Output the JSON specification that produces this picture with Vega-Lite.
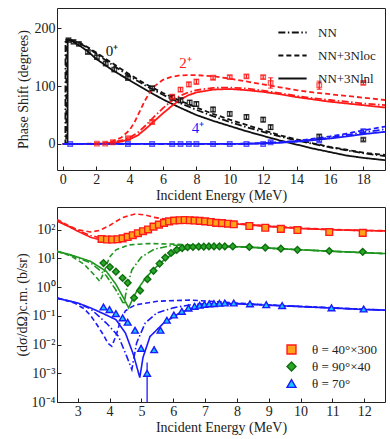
{
 "$schema": "https://vega.github.io/schema/vega-lite/v6.json",
 "padding": {"left": 14, "top": 7, "right": 5, "bottom": 2},
 "spacing": 3,
 "resolve": {
  "scale": {"x": "independent", "y": "independent", "color": "independent"}
 },
 "config": {
  "font": "Liberation Serif",
  "view": {"stroke": "#222", "strokeWidth": 1},
  "axis": {"grid": false, "domain": false, "tickColor": "#222", "tickSize": -4, "labelPadding": 6, "labelFont": "Liberation Serif", "labelFontSize": 14, "labelColor": "#222", "titleFont": "Liberation Serif", "titleFontSize": 14, "titleFontWeight": "normal", "titleColor": "#222"},
  "legend": {"labelFont": "Liberation Serif", "labelFontSize": 13, "labelColor": "#222"}
 },
 "datasets": {
  "a_curves": [
   {"state":"0+","model":"NN","x":0,"y":0},{"state":"0+","model":"NN","x":0.15,"y":0},{"state":"0+","model":"NN","x":0.16,"y":180},{"state":"0+","model":"NN","x":0.5,"y":179},{"state":"0+","model":"NN","x":1,"y":174},{"state":"0+","model":"NN","x":1.5,"y":166},{"state":"0+","model":"NN","x":2,"y":156},{"state":"0+","model":"NN","x":3,"y":136},{"state":"0+","model":"NN","x":4,"y":117},{"state":"0+","model":"NN","x":5,"y":100},{"state":"0+","model":"NN","x":6,"y":85},{"state":"0+","model":"NN","x":7,"y":71},{"state":"0+","model":"NN","x":8,"y":59},{"state":"0+","model":"NN","x":9,"y":48},{"state":"0+","model":"NN","x":10,"y":38},{"state":"0+","model":"NN","x":11,"y":29},{"state":"0+","model":"NN","x":12,"y":21},{"state":"0+","model":"NN","x":13,"y":13},{"state":"0+","model":"NN","x":14,"y":6},{"state":"0+","model":"NN","x":15,"y":0},{"state":"0+","model":"NN","x":16,"y":-6},{"state":"0+","model":"NN","x":17,"y":-11},{"state":"0+","model":"NN","x":18,"y":-16},{"state":"0+","model":"NN","x":19.3,"y":-21},
   {"state":"0+","model":"NN+3Nloc","x":0,"y":0},{"state":"0+","model":"NN+3Nloc","x":0.2,"y":0},{"state":"0+","model":"NN+3Nloc","x":0.21,"y":180},{"state":"0+","model":"NN+3Nloc","x":0.5,"y":179.5},{"state":"0+","model":"NN+3Nloc","x":1,"y":175},{"state":"0+","model":"NN+3Nloc","x":1.5,"y":167},{"state":"0+","model":"NN+3Nloc","x":2,"y":158},{"state":"0+","model":"NN+3Nloc","x":3,"y":139},{"state":"0+","model":"NN+3Nloc","x":4,"y":120},{"state":"0+","model":"NN+3Nloc","x":5,"y":103},{"state":"0+","model":"NN+3Nloc","x":6,"y":88},{"state":"0+","model":"NN+3Nloc","x":7,"y":75},{"state":"0+","model":"NN+3Nloc","x":8,"y":63},{"state":"0+","model":"NN+3Nloc","x":9,"y":52},{"state":"0+","model":"NN+3Nloc","x":10,"y":42},{"state":"0+","model":"NN+3Nloc","x":11,"y":33},{"state":"0+","model":"NN+3Nloc","x":12,"y":24},{"state":"0+","model":"NN+3Nloc","x":13,"y":15},{"state":"0+","model":"NN+3Nloc","x":14,"y":8},{"state":"0+","model":"NN+3Nloc","x":15,"y":1},{"state":"0+","model":"NN+3Nloc","x":16,"y":-5},{"state":"0+","model":"NN+3Nloc","x":17,"y":-10},{"state":"0+","model":"NN+3Nloc","x":18,"y":-15},{"state":"0+","model":"NN+3Nloc","x":19.3,"y":-19},
   {"state":"0+","model":"NN+3Nlnl","x":0,"y":0},{"state":"0+","model":"NN+3Nlnl","x":0.28,"y":0},{"state":"0+","model":"NN+3Nlnl","x":0.29,"y":180},{"state":"0+","model":"NN+3Nlnl","x":0.5,"y":179},{"state":"0+","model":"NN+3Nlnl","x":1,"y":170},{"state":"0+","model":"NN+3Nlnl","x":1.5,"y":160},{"state":"0+","model":"NN+3Nlnl","x":2,"y":147},{"state":"0+","model":"NN+3Nlnl","x":3,"y":127},{"state":"0+","model":"NN+3Nlnl","x":4,"y":110},{"state":"0+","model":"NN+3Nlnl","x":5,"y":93},{"state":"0+","model":"NN+3Nlnl","x":6,"y":77},{"state":"0+","model":"NN+3Nlnl","x":7,"y":63},{"state":"0+","model":"NN+3Nlnl","x":8,"y":50},{"state":"0+","model":"NN+3Nlnl","x":9,"y":40},{"state":"0+","model":"NN+3Nlnl","x":10,"y":31},{"state":"0+","model":"NN+3Nlnl","x":11,"y":22},{"state":"0+","model":"NN+3Nlnl","x":12,"y":14},{"state":"0+","model":"NN+3Nlnl","x":13,"y":6},{"state":"0+","model":"NN+3Nlnl","x":14,"y":-1},{"state":"0+","model":"NN+3Nlnl","x":15,"y":-8},{"state":"0+","model":"NN+3Nlnl","x":16,"y":-14},{"state":"0+","model":"NN+3Nlnl","x":17,"y":-20},{"state":"0+","model":"NN+3Nlnl","x":18,"y":-24},{"state":"0+","model":"NN+3Nlnl","x":19.3,"y":-28},
   {"state":"2+","model":"NN","x":0,"y":0},{"state":"2+","model":"NN","x":2,"y":0.3},{"state":"2+","model":"NN","x":2.5,"y":1},{"state":"2+","model":"NN","x":3,"y":3},{"state":"2+","model":"NN","x":3.5,"y":6},{"state":"2+","model":"NN","x":4,"y":11},{"state":"2+","model":"NN","x":4.5,"y":20},{"state":"2+","model":"NN","x":5,"y":33},{"state":"2+","model":"NN","x":5.5,"y":48},{"state":"2+","model":"NN","x":6,"y":62},{"state":"2+","model":"NN","x":6.5,"y":74},{"state":"2+","model":"NN","x":7,"y":83},{"state":"2+","model":"NN","x":7.5,"y":89},{"state":"2+","model":"NN","x":8,"y":93},{"state":"2+","model":"NN","x":9,"y":97},{"state":"2+","model":"NN","x":10,"y":97.5},{"state":"2+","model":"NN","x":11,"y":96},{"state":"2+","model":"NN","x":12,"y":92},{"state":"2+","model":"NN","x":13,"y":88},{"state":"2+","model":"NN","x":14,"y":83},{"state":"2+","model":"NN","x":15,"y":79},{"state":"2+","model":"NN","x":16,"y":76},{"state":"2+","model":"NN","x":17,"y":73},{"state":"2+","model":"NN","x":18,"y":70},{"state":"2+","model":"NN","x":19.3,"y":67},
   {"state":"2+","model":"NN+3Nloc","x":0,"y":0},{"state":"2+","model":"NN+3Nloc","x":2,"y":0.5},{"state":"2+","model":"NN+3Nloc","x":2.5,"y":2},{"state":"2+","model":"NN+3Nloc","x":3,"y":5},{"state":"2+","model":"NN+3Nloc","x":3.5,"y":11},{"state":"2+","model":"NN+3Nloc","x":4,"y":24},{"state":"2+","model":"NN+3Nloc","x":4.3,"y":38},{"state":"2+","model":"NN+3Nloc","x":4.6,"y":56},{"state":"2+","model":"NN+3Nloc","x":4.9,"y":74},{"state":"2+","model":"NN+3Nloc","x":5.2,"y":89},{"state":"2+","model":"NN+3Nloc","x":5.5,"y":100},{"state":"2+","model":"NN+3Nloc","x":6,"y":111},{"state":"2+","model":"NN+3Nloc","x":6.5,"y":116},{"state":"2+","model":"NN+3Nloc","x":7,"y":118.5},{"state":"2+","model":"NN+3Nloc","x":7.5,"y":119},{"state":"2+","model":"NN+3Nloc","x":8,"y":119},{"state":"2+","model":"NN+3Nloc","x":9,"y":117},{"state":"2+","model":"NN+3Nloc","x":10,"y":113},{"state":"2+","model":"NN+3Nloc","x":11,"y":108},{"state":"2+","model":"NN+3Nloc","x":12,"y":103},{"state":"2+","model":"NN+3Nloc","x":13,"y":98},{"state":"2+","model":"NN+3Nloc","x":14,"y":93},{"state":"2+","model":"NN+3Nloc","x":15,"y":89},{"state":"2+","model":"NN+3Nloc","x":16,"y":86},{"state":"2+","model":"NN+3Nloc","x":17,"y":83},{"state":"2+","model":"NN+3Nloc","x":18,"y":80},{"state":"2+","model":"NN+3Nloc","x":19.3,"y":76},
   {"state":"2+","model":"NN+3Nlnl","x":0,"y":0},{"state":"2+","model":"NN+3Nlnl","x":2,"y":0.2},{"state":"2+","model":"NN+3Nlnl","x":2.5,"y":0.7},{"state":"2+","model":"NN+3Nlnl","x":3,"y":2},{"state":"2+","model":"NN+3Nlnl","x":3.5,"y":4},{"state":"2+","model":"NN+3Nlnl","x":4,"y":8},{"state":"2+","model":"NN+3Nlnl","x":4.5,"y":15},{"state":"2+","model":"NN+3Nlnl","x":5,"y":27},{"state":"2+","model":"NN+3Nlnl","x":5.5,"y":40},{"state":"2+","model":"NN+3Nlnl","x":6,"y":53},{"state":"2+","model":"NN+3Nlnl","x":6.5,"y":65},{"state":"2+","model":"NN+3Nlnl","x":7,"y":76},{"state":"2+","model":"NN+3Nlnl","x":7.5,"y":84},{"state":"2+","model":"NN+3Nlnl","x":8,"y":89},{"state":"2+","model":"NN+3Nlnl","x":9,"y":94},{"state":"2+","model":"NN+3Nlnl","x":10,"y":95},{"state":"2+","model":"NN+3Nlnl","x":11,"y":93},{"state":"2+","model":"NN+3Nlnl","x":12,"y":90},{"state":"2+","model":"NN+3Nlnl","x":13,"y":86},{"state":"2+","model":"NN+3Nlnl","x":14,"y":81},{"state":"2+","model":"NN+3Nlnl","x":15,"y":77},{"state":"2+","model":"NN+3Nlnl","x":16,"y":73},{"state":"2+","model":"NN+3Nlnl","x":17,"y":70},{"state":"2+","model":"NN+3Nlnl","x":18,"y":67},{"state":"2+","model":"NN+3Nlnl","x":19.3,"y":63},
   {"state":"4+","model":"NN","x":0,"y":0},{"state":"4+","model":"NN","x":10,"y":0},{"state":"4+","model":"NN","x":11,"y":0.4},{"state":"4+","model":"NN","x":12,"y":1.2},{"state":"4+","model":"NN","x":13,"y":2.6},{"state":"4+","model":"NN","x":14,"y":4.7},{"state":"4+","model":"NN","x":15,"y":7.7},{"state":"4+","model":"NN","x":16,"y":11},{"state":"4+","model":"NN","x":17,"y":15.5},{"state":"4+","model":"NN","x":18,"y":20},{"state":"4+","model":"NN","x":19.3,"y":25.5},
   {"state":"4+","model":"NN+3Nloc","x":0,"y":0},{"state":"4+","model":"NN+3Nloc","x":10,"y":0},{"state":"4+","model":"NN+3Nloc","x":11,"y":0.5},{"state":"4+","model":"NN+3Nloc","x":12,"y":1.5},{"state":"4+","model":"NN+3Nloc","x":13,"y":3},{"state":"4+","model":"NN+3Nloc","x":14,"y":5.5},{"state":"4+","model":"NN+3Nloc","x":15,"y":9},{"state":"4+","model":"NN+3Nloc","x":16,"y":13},{"state":"4+","model":"NN+3Nloc","x":17,"y":18},{"state":"4+","model":"NN+3Nloc","x":18,"y":23.5},{"state":"4+","model":"NN+3Nloc","x":19.3,"y":30},
   {"state":"4+","model":"NN+3Nlnl","x":0,"y":0},{"state":"4+","model":"NN+3Nlnl","x":10,"y":0},{"state":"4+","model":"NN+3Nlnl","x":11,"y":0.3},{"state":"4+","model":"NN+3Nlnl","x":12,"y":1},{"state":"4+","model":"NN+3Nlnl","x":13,"y":2.2},{"state":"4+","model":"NN+3Nlnl","x":14,"y":4},{"state":"4+","model":"NN+3Nlnl","x":15,"y":6.5},{"state":"4+","model":"NN+3Nlnl","x":16,"y":9.5},{"state":"4+","model":"NN+3Nlnl","x":17,"y":13},{"state":"4+","model":"NN+3Nlnl","x":18,"y":17},{"state":"4+","model":"NN+3Nlnl","x":19.3,"y":21}
  ],
  "a_points": [
   {"state":"0+","x":0.34,"y":179.4,"lo":177,"hi":182},{"state":"0+","x":0.64,"y":176.5,"lo":174,"hi":179},{"state":"0+","x":0.96,"y":173,"lo":170,"hi":176},{"state":"0+","x":1.5,"y":159,"lo":156,"hi":162},{"state":"0+","x":2.04,"y":150,"lo":147,"hi":153},{"state":"0+","x":2.57,"y":139,"lo":136,"hi":142},{"state":"0+","x":3.08,"y":128.5,"lo":125.5,"hi":131.5},{"state":"0+","x":3.9,"y":114,"lo":111,"hi":117},{"state":"0+","x":5.35,"y":96,"lo":92,"hi":100},{"state":"0+","x":6.55,"y":80,"lo":76,"hi":84},{"state":"0+","x":7.05,"y":75.5,"lo":71.5,"hi":79.5},{"state":"0+","x":7.6,"y":71.5,"lo":67.5,"hi":75.5},{"state":"0+","x":8.0,"y":69,"lo":65,"hi":73},{"state":"0+","x":9.0,"y":59.5,"lo":55.5,"hi":63.5},{"state":"0+","x":10.0,"y":52,"lo":48,"hi":56},{"state":"0+","x":11.0,"y":46.5,"lo":42.5,"hi":50.5},{"state":"0+","x":12.0,"y":42,"lo":38,"hi":46},{"state":"0+","x":12.45,"y":29,"lo":25,"hi":33},{"state":"0+","x":15.36,"y":13,"lo":10,"hi":16},{"state":"0+","x":18.0,"y":7.6,"lo":5,"hi":10},
   {"state":"2+","x":2.04,"y":0.5,"lo":-1,"hi":2},{"state":"2+","x":2.54,"y":0.5,"lo":-1,"hi":2},{"state":"2+","x":3.0,"y":3,"lo":1.5,"hi":4.5},{"state":"2+","x":3.9,"y":10,"lo":8,"hi":12},{"state":"2+","x":5.35,"y":38,"lo":35,"hi":41},{"state":"2+","x":6.55,"y":81.5,"lo":78,"hi":85},{"state":"2+","x":7.05,"y":94,"lo":90.5,"hi":97.5},{"state":"2+","x":7.55,"y":103,"lo":99,"hi":107},{"state":"2+","x":8.0,"y":107.5,"lo":103.5,"hi":111.5},{"state":"2+","x":9.0,"y":114.5,"lo":111.5,"hi":117.5},{"state":"2+","x":10.0,"y":115.5,"lo":112.5,"hi":118.5},{"state":"2+","x":11.0,"y":116.8,"lo":113.8,"hi":119.8},{"state":"2+","x":12.0,"y":115.5,"lo":112.5,"hi":118.5},{"state":"2+","x":12.45,"y":105.5,"lo":96.5,"hi":114.5},{"state":"2+","x":15.36,"y":101.5,"lo":94.5,"hi":108.5},{"state":"2+","x":18.0,"y":105.5,"lo":102.5,"hi":108.5},
   {"state":"4+","x":0.44,"y":0,"lo":-1,"hi":1},{"state":"4+","x":3.9,"y":0,"lo":-1,"hi":1},{"state":"4+","x":5.35,"y":0,"lo":-1,"hi":1},{"state":"4+","x":6.55,"y":0,"lo":-1,"hi":1},{"state":"4+","x":7.05,"y":0,"lo":-1,"hi":1},{"state":"4+","x":7.55,"y":0,"lo":-1,"hi":1},{"state":"4+","x":8.0,"y":0,"lo":-1,"hi":1},{"state":"4+","x":9.0,"y":0,"lo":-1,"hi":1},{"state":"4+","x":10.0,"y":0,"lo":-1,"hi":1},{"state":"4+","x":11.0,"y":0,"lo":-1,"hi":1},{"state":"4+","x":12.0,"y":0,"lo":-1,"hi":1},{"state":"4+","x":12.45,"y":3,"lo":1,"hi":5},{"state":"4+","x":15.36,"y":6,"lo":4,"hi":8},{"state":"4+","x":18.0,"y":22,"lo":19,"hi":25}
  ],
  "a_labels": [
   {"state":"0+","x":2.94,"y":160,"text":"0⁺"},
   {"state":"2+","x":7.35,"y":140,"text":"2⁺"},
   {"state":"4+","x":8.1,"y":27,"text":"4⁺"}
  ],
  "b_curves": [
   {"series":"θ = 40°×300","model":"NN+3Nlnl","x":2.35,"y":200},{"series":"θ = 40°×300","model":"NN+3Nlnl","x":2.7,"y":131.8},{"series":"θ = 40°×300","model":"NN+3Nlnl","x":3.0,"y":89.1},{"series":"θ = 40°×300","model":"NN+3Nlnl","x":3.4,"y":54.95},{"series":"θ = 40°×300","model":"NN+3Nlnl","x":3.7,"y":44.7},{"series":"θ = 40°×300","model":"NN+3Nlnl","x":4.0,"y":45.7},{"series":"θ = 40°×300","model":"NN+3Nlnl","x":4.3,"y":52.5},{"series":"θ = 40°×300","model":"NN+3Nlnl","x":4.7,"y":66.1},{"series":"θ = 40°×300","model":"NN+3Nlnl","x":5.0,"y":81.3},{"series":"θ = 40°×300","model":"NN+3Nlnl","x":5.3,"y":104.7},{"series":"θ = 40°×300","model":"NN+3Nlnl","x":5.6,"y":138},{"series":"θ = 40°×300","model":"NN+3Nlnl","x":6.0,"y":182},{"series":"θ = 40°×300","model":"NN+3Nlnl","x":6.5,"y":213.8},{"series":"θ = 40°×300","model":"NN+3Nlnl","x":7.0,"y":204.2},{"series":"θ = 40°×300","model":"NN+3Nlnl","x":7.5,"y":182},{"series":"θ = 40°×300","model":"NN+3Nlnl","x":8,"y":158.5},{"series":"θ = 40°×300","model":"NN+3Nlnl","x":9,"y":128.8},{"series":"θ = 40°×300","model":"NN+3Nlnl","x":10,"y":109.6},{"series":"θ = 40°×300","model":"NN+3Nlnl","x":11,"y":100},{"series":"θ = 40°×300","model":"NN+3Nlnl","x":12,"y":93.3},{"series":"θ = 40°×300","model":"NN+3Nlnl","x":12.65,"y":91.2},
   {"series":"θ = 40°×300","model":"NN","x":2.35,"y":208.9},{"series":"θ = 40°×300","model":"NN","x":2.7,"y":138},{"series":"θ = 40°×300","model":"NN","x":3.0,"y":95.5},{"series":"θ = 40°×300","model":"NN","x":3.4,"y":63.1},{"series":"θ = 40°×300","model":"NN","x":3.7,"y":52.5},{"series":"θ = 40°×300","model":"NN","x":4.0,"y":52.5},{"series":"θ = 40°×300","model":"NN","x":4.3,"y":58.9},{"series":"θ = 40°×300","model":"NN","x":4.7,"y":74.1},{"series":"θ = 40°×300","model":"NN","x":5.0,"y":93.3},{"series":"θ = 40°×300","model":"NN","x":5.3,"y":120.2},{"series":"θ = 40°×300","model":"NN","x":5.6,"y":151.4},{"series":"θ = 40°×300","model":"NN","x":6.0,"y":190.5},{"series":"θ = 40°×300","model":"NN","x":6.5,"y":218.8},{"series":"θ = 40°×300","model":"NN","x":7.0,"y":208.9},{"series":"θ = 40°×300","model":"NN","x":7.5,"y":186.2},{"series":"θ = 40°×300","model":"NN","x":8,"y":162.2},{"series":"θ = 40°×300","model":"NN","x":9,"y":131.8},{"series":"θ = 40°×300","model":"NN","x":10,"y":112.2},{"series":"θ = 40°×300","model":"NN","x":11,"y":100},{"series":"θ = 40°×300","model":"NN","x":12,"y":93.3},{"series":"θ = 40°×300","model":"NN","x":12.65,"y":91.2},
   {"series":"θ = 40°×300","model":"NN+3Nloc","x":2.35,"y":229.1},{"series":"θ = 40°×300","model":"NN+3Nloc","x":2.7,"y":141.3},{"series":"θ = 40°×300","model":"NN+3Nloc","x":3.0,"y":100},{"series":"θ = 40°×300","model":"NN+3Nloc","x":3.4,"y":83.2},{"series":"θ = 40°×300","model":"NN+3Nloc","x":3.7,"y":95.5},{"series":"θ = 40°×300","model":"NN+3Nloc","x":4.0,"y":141.3},{"series":"θ = 40°×300","model":"NN+3Nloc","x":4.4,"y":263},{"series":"θ = 40°×300","model":"NN+3Nloc","x":4.8,"y":354.8},{"series":"θ = 40°×300","model":"NN+3Nloc","x":5.1,"y":331.1},{"series":"θ = 40°×300","model":"NN+3Nloc","x":5.4,"y":269.2},{"series":"θ = 40°×300","model":"NN+3Nloc","x":5.8,"y":229.1},{"series":"θ = 40°×300","model":"NN+3Nloc","x":6.3,"y":229.1},{"series":"θ = 40°×300","model":"NN+3Nloc","x":6.8,"y":223.9},{"series":"θ = 40°×300","model":"NN+3Nloc","x":7.5,"y":190.5},{"series":"θ = 40°×300","model":"NN+3Nloc","x":8,"y":166},{"series":"θ = 40°×300","model":"NN+3Nloc","x":9,"y":134.9},{"series":"θ = 40°×300","model":"NN+3Nloc","x":10,"y":114.8},{"series":"θ = 40°×300","model":"NN+3Nloc","x":11,"y":102.3},{"series":"θ = 40°×300","model":"NN+3Nloc","x":12,"y":95.5},{"series":"θ = 40°×300","model":"NN+3Nloc","x":12.65,"y":93.3},
   {"series":"θ = 90°×40","model":"NN+3Nlnl","x":2.35,"y":17.78},{"series":"θ = 90°×40","model":"NN+3Nlnl","x":2.8,"y":13.18},{"series":"θ = 90°×40","model":"NN+3Nlnl","x":3.4,"y":7.943},{"series":"θ = 90°×40","model":"NN+3Nlnl","x":3.9,"y":3.548},{"series":"θ = 90°×40","model":"NN+3Nlnl","x":4.2,"y":1.259},{"series":"θ = 90°×40","model":"NN+3Nlnl","x":4.4,"y":0.5012},{"series":"θ = 90°×40","model":"NN+3Nlnl","x":4.6,"y":0.1905},{"series":"θ = 90°×40","model":"NN+3Nlnl","x":4.75,"y":0.4467},{"series":"θ = 90°×40","model":"NN+3Nlnl","x":4.9,"y":0.8913},{"series":"θ = 90°×40","model":"NN+3Nlnl","x":5.1,"y":1.862},{"series":"θ = 90°×40","model":"NN+3Nlnl","x":5.3,"y":3.311},{"series":"θ = 90°×40","model":"NN+3Nlnl","x":5.6,"y":7.079},{"series":"θ = 90°×40","model":"NN+3Nlnl","x":5.9,"y":12.59},{"series":"θ = 90°×40","model":"NN+3Nlnl","x":6.2,"y":19.05},{"series":"θ = 90°×40","model":"NN+3Nlnl","x":6.6,"y":24.55},{"series":"θ = 90°×40","model":"NN+3Nlnl","x":7,"y":26.3},{"series":"θ = 90°×40","model":"NN+3Nlnl","x":8,"y":25.7},{"series":"θ = 90°×40","model":"NN+3Nlnl","x":9,"y":22.91},{"series":"θ = 90°×40","model":"NN+3Nlnl","x":10,"y":19.95},{"series":"θ = 90°×40","model":"NN+3Nlnl","x":11,"y":17.78},{"series":"θ = 90°×40","model":"NN+3Nlnl","x":12,"y":15.85},{"series":"θ = 90°×40","model":"NN+3Nlnl","x":12.65,"y":14.79},
   {"series":"θ = 90°×40","model":"NN","x":2.35,"y":17.78},{"series":"θ = 90°×40","model":"NN","x":2.8,"y":12.59},{"series":"θ = 90°×40","model":"NN","x":3.4,"y":7.079},{"series":"θ = 90°×40","model":"NN","x":3.9,"y":2.512},{"series":"θ = 90°×40","model":"NN","x":4.2,"y":0.7943},{"series":"θ = 90°×40","model":"NN","x":4.45,"y":0.2512},{"series":"θ = 90°×40","model":"NN","x":4.55,"y":1.0},{"series":"θ = 90°×40","model":"NN","x":4.7,"y":3.981},{"series":"θ = 90°×40","model":"NN","x":5.0,"y":11.22},{"series":"θ = 90°×40","model":"NN","x":5.4,"y":20.89},{"series":"θ = 90°×40","model":"NN","x":6.0,"y":28.84},{"series":"θ = 90°×40","model":"NN","x":6.5,"y":28.84},{"series":"θ = 90°×40","model":"NN","x":7,"y":27.54},{"series":"θ = 90°×40","model":"NN","x":8,"y":25.7},{"series":"θ = 90°×40","model":"NN","x":9,"y":22.91},{"series":"θ = 90°×40","model":"NN","x":10,"y":19.95},{"series":"θ = 90°×40","model":"NN","x":11,"y":17.78},{"series":"θ = 90°×40","model":"NN","x":12,"y":15.85},{"series":"θ = 90°×40","model":"NN","x":12.65,"y":14.79},
   {"series":"θ = 90°×40","model":"NN+3Nloc","x":2.35,"y":17.78},{"series":"θ = 90°×40","model":"NN+3Nloc","x":2.8,"y":12.02},{"series":"θ = 90°×40","model":"NN+3Nloc","x":3.2,"y":6.31},{"series":"θ = 90°×40","model":"NN+3Nloc","x":3.5,"y":2.818},{"series":"θ = 90°×40","model":"NN+3Nloc","x":3.7,"y":1.585},{"series":"θ = 90°×40","model":"NN+3Nloc","x":3.85,"y":3.981},{"series":"θ = 90°×40","model":"NN+3Nloc","x":4.0,"y":11.22},{"series":"θ = 90°×40","model":"NN+3Nloc","x":4.2,"y":19.95},{"series":"θ = 90°×40","model":"NN+3Nloc","x":4.6,"y":29.51},{"series":"θ = 90°×40","model":"NN+3Nloc","x":5.2,"y":33.11},{"series":"θ = 90°×40","model":"NN+3Nloc","x":6.0,"y":31.62},{"series":"θ = 90°×40","model":"NN+3Nloc","x":6.5,"y":29.51},{"series":"θ = 90°×40","model":"NN+3Nloc","x":7,"y":27.54},{"series":"θ = 90°×40","model":"NN+3Nloc","x":8,"y":25.7},{"series":"θ = 90°×40","model":"NN+3Nloc","x":9,"y":22.91},{"series":"θ = 90°×40","model":"NN+3Nloc","x":10,"y":19.95},{"series":"θ = 90°×40","model":"NN+3Nloc","x":11,"y":17.78},{"series":"θ = 90°×40","model":"NN+3Nloc","x":12,"y":15.85},{"series":"θ = 90°×40","model":"NN+3Nloc","x":12.65,"y":14.79},
   {"series":"θ = 70°","model":"NN+3Nlnl","x":2.35,"y":0.4169},{"series":"θ = 70°","model":"NN+3Nlnl","x":3.0,"y":0.2818},{"series":"θ = 70°","model":"NN+3Nlnl","x":3.4,"y":0.1905},{"series":"θ = 70°","model":"NN+3Nlnl","x":3.8,"y":0.1202},{"series":"θ = 70°","model":"NN+3Nlnl","x":4.2,"y":0.07413},{"series":"θ = 70°","model":"NN+3Nlnl","x":4.5,"y":0.02512},{"series":"θ = 70°","model":"NN+3Nlnl","x":4.75,"y":0.004467},{"series":"θ = 70°","model":"NN+3Nlnl","x":4.95,"y":0.0007079},{"series":"θ = 70°","model":"NN+3Nlnl","x":5.05,"y":0.003548},{"series":"θ = 70°","model":"NN+3Nlnl","x":5.27,"y":0.01905},{"series":"θ = 70°","model":"NN+3Nlnl","x":5.7,"y":0.05623},{"series":"θ = 70°","model":"NN+3Nlnl","x":6.2,"y":0.1259},{"series":"θ = 70°","model":"NN+3Nlnl","x":6.7,"y":0.2089},{"series":"θ = 70°","model":"NN+3Nlnl","x":7.2,"y":0.2512},{"series":"θ = 70°","model":"NN+3Nlnl","x":8,"y":0.263},{"series":"θ = 70°","model":"NN+3Nlnl","x":9,"y":0.2344},{"series":"θ = 70°","model":"NN+3Nlnl","x":10,"y":0.2089},{"series":"θ = 70°","model":"NN+3Nlnl","x":11,"y":0.1862},{"series":"θ = 70°","model":"NN+3Nlnl","x":12,"y":0.166},{"series":"θ = 70°","model":"NN+3Nlnl","x":12.65,"y":0.1585},
   {"series":"θ = 70°","model":"NN","x":2.35,"y":0.4169},{"series":"θ = 70°","model":"NN","x":3.0,"y":0.2754},{"series":"θ = 70°","model":"NN","x":3.4,"y":0.1778},{"series":"θ = 70°","model":"NN","x":3.9,"y":0.05623},{"series":"θ = 70°","model":"NN","x":4.28,"y":0.0195},{"series":"θ = 70°","model":"NN","x":4.54,"y":0.00389},{"series":"θ = 70°","model":"NN","x":4.7,"y":0.001349},{"series":"θ = 70°","model":"NN","x":4.85,"y":0.01148},{"series":"θ = 70°","model":"NN","x":5.12,"y":0.05623},{"series":"θ = 70°","model":"NN","x":5.48,"y":0.1259},{"series":"θ = 70°","model":"NN","x":6.0,"y":0.1905},{"series":"θ = 70°","model":"NN","x":6.5,"y":0.2399},{"series":"θ = 70°","model":"NN","x":7,"y":0.263},{"series":"θ = 70°","model":"NN","x":8,"y":0.2692},{"series":"θ = 70°","model":"NN","x":9,"y":0.2399},{"series":"θ = 70°","model":"NN","x":10,"y":0.2138},{"series":"θ = 70°","model":"NN","x":11,"y":0.1905},{"series":"θ = 70°","model":"NN","x":12,"y":0.1698},{"series":"θ = 70°","model":"NN","x":12.65,"y":0.1585},
   {"series":"θ = 70°","model":"NN+3Nloc","x":2.35,"y":0.4169},{"series":"θ = 70°","model":"NN+3Nloc","x":2.9,"y":0.2818},{"series":"θ = 70°","model":"NN+3Nloc","x":3.2,"y":0.1778},{"series":"θ = 70°","model":"NN+3Nloc","x":3.4,"y":0.1047},{"series":"θ = 70°","model":"NN+3Nloc","x":3.6,"y":0.05012},{"series":"θ = 70°","model":"NN+3Nloc","x":3.8,"y":0.02239},{"series":"θ = 70°","model":"NN+3Nloc","x":3.95,"y":0.01122},{"series":"θ = 70°","model":"NN+3Nloc","x":4.07,"y":0.00871},{"series":"θ = 70°","model":"NN+3Nloc","x":4.2,"y":0.01995},{"series":"θ = 70°","model":"NN+3Nloc","x":4.35,"y":0.07079},{"series":"θ = 70°","model":"NN+3Nloc","x":4.5,"y":0.1514},{"series":"θ = 70°","model":"NN+3Nloc","x":4.8,"y":0.2399},{"series":"θ = 70°","model":"NN+3Nloc","x":5.5,"y":0.3236},{"series":"θ = 70°","model":"NN+3Nloc","x":6.5,"y":0.3548},{"series":"θ = 70°","model":"NN+3Nloc","x":7,"y":0.3311},{"series":"θ = 70°","model":"NN+3Nloc","x":8,"y":0.2818},{"series":"θ = 70°","model":"NN+3Nloc","x":9,"y":0.2399},{"series":"θ = 70°","model":"NN+3Nloc","x":10,"y":0.2138},{"series":"θ = 70°","model":"NN+3Nloc","x":11,"y":0.1905},{"series":"θ = 70°","model":"NN+3Nloc","x":12,"y":0.1698},{"series":"θ = 70°","model":"NN+3Nloc","x":12.65,"y":0.1585}
  ],
  "b_points": [
   {"series":"θ = 40°×300","x":3.75,"y":47.86},{"series":"θ = 40°×300","x":3.92,"y":45.71},{"series":"θ = 40°×300","x":4.08,"y":45.71},{"series":"θ = 40°×300","x":4.25,"y":46.77},{"series":"θ = 40°×300","x":4.41,"y":50.12},{"series":"θ = 40°×300","x":4.57,"y":56.23},{"series":"θ = 40°×300","x":4.73,"y":64.57},{"series":"θ = 40°×300","x":4.89,"y":75.86},{"series":"θ = 40°×300","x":5.05,"y":89.13},{"series":"θ = 40°×300","x":5.21,"y":102.3},{"series":"θ = 40°×300","x":5.38,"y":128.8},{"series":"θ = 40°×300","x":5.55,"y":151.4},{"series":"θ = 40°×300","x":5.71,"y":173.8},{"series":"θ = 40°×300","x":5.87,"y":195.0},{"series":"θ = 40°×300","x":6.03,"y":208.9},{"series":"θ = 40°×300","x":6.2,"y":213.8},{"series":"θ = 40°×300","x":6.36,"y":218.8},{"series":"θ = 40°×300","x":6.52,"y":213.8},{"series":"θ = 40°×300","x":6.67,"y":208.9},{"series":"θ = 40°×300","x":6.83,"y":204.2},{"series":"θ = 40°×300","x":7.0,"y":195.0},{"series":"θ = 40°×300","x":7.18,"y":186.2},{"series":"θ = 40°×300","x":7.35,"y":173.8},{"series":"θ = 40°×300","x":7.53,"y":169.8},{"series":"θ = 40°×300","x":7.72,"y":162.2},{"series":"θ = 40°×300","x":7.9,"y":154.9},{"series":"θ = 40°×300","x":8.39,"y":134.9},{"series":"θ = 40°×300","x":8.89,"y":117.5},{"series":"θ = 40°×300","x":9.38,"y":107.2},{"series":"θ = 40°×300","x":9.9,"y":97.72},{"series":"θ = 40°×300","x":10.9,"y":83.18},{"series":"θ = 40°×300","x":11.95,"y":77.62},
   {"series":"θ = 90°×40","x":3.81,"y":6.918},{"series":"θ = 90°×40","x":4.01,"y":5.012},{"series":"θ = 90°×40","x":4.2,"y":3.467},{"series":"θ = 90°×40","x":4.41,"y":2.089},{"series":"θ = 90°×40","x":4.57,"y":1.413},{"series":"θ = 90°×40","x":4.77,"y":0.4266},{"series":"θ = 90°×40","x":4.96,"y":0.7586},{"series":"θ = 90°×40","x":5.19,"y":1.905},{"series":"θ = 90°×40","x":5.38,"y":3.715},{"series":"θ = 90°×40","x":5.57,"y":6.607},{"series":"θ = 90°×40","x":5.75,"y":10.72},{"series":"θ = 90°×40","x":5.93,"y":15.49},{"series":"θ = 90°×40","x":6.11,"y":19.95},{"series":"θ = 90°×40","x":6.28,"y":22.91},{"series":"θ = 90°×40","x":6.45,"y":24.55},{"series":"θ = 90°×40","x":6.62,"y":25.12},{"series":"θ = 90°×40","x":6.8,"y":25.7},{"series":"θ = 90°×40","x":6.96,"y":25.7},{"series":"θ = 90°×40","x":7.12,"y":26.3},{"series":"θ = 90°×40","x":7.28,"y":26.3},{"series":"θ = 90°×40","x":7.45,"y":26.3},{"series":"θ = 90°×40","x":7.62,"y":26.3},{"series":"θ = 90°×40","x":7.87,"y":26.3},{"series":"θ = 90°×40","x":8.39,"y":25.12},{"series":"θ = 90°×40","x":8.89,"y":23.99},{"series":"θ = 90°×40","x":9.38,"y":21.88},{"series":"θ = 90°×40","x":9.9,"y":19.95},{"series":"θ = 90°×40","x":10.9,"y":18.2},{"series":"θ = 90°×40","x":11.95,"y":16.98},
   {"series":"θ = 70°","x":3.81,"y":0.2042},{"series":"θ = 70°","x":4.0,"y":0.166},{"series":"θ = 70°","x":4.2,"y":0.1202},{"series":"θ = 70°","x":4.41,"y":0.08511},{"series":"θ = 70°","x":4.57,"y":0.06026},{"series":"θ = 70°","x":4.8,"y":0.03162},{"series":"θ = 70°","x":4.99,"y":0.007413},{"series":"θ = 70°","x":5.18,"y":0.001},{"series":"θ = 70°","x":5.4,"y":0.006607},{"series":"θ = 70°","x":5.6,"y":0.03162},{"series":"θ = 70°","x":5.8,"y":0.07079},{"series":"θ = 70°","x":6.02,"y":0.1072},{"series":"θ = 70°","x":6.27,"y":0.1445},{"series":"θ = 70°","x":6.48,"y":0.1862},{"series":"θ = 70°","x":6.67,"y":0.2138},{"series":"θ = 70°","x":6.83,"y":0.2344},{"series":"θ = 70°","x":6.98,"y":0.2512},{"series":"θ = 70°","x":7.13,"y":0.263},{"series":"θ = 70°","x":7.28,"y":0.2692},{"series":"θ = 70°","x":7.45,"y":0.2754},{"series":"θ = 70°","x":7.62,"y":0.2818},{"series":"θ = 70°","x":7.9,"y":0.2818},{"series":"θ = 70°","x":8.41,"y":0.263},{"series":"θ = 70°","x":8.92,"y":0.2455},{"series":"θ = 70°","x":9.42,"y":0.2291},{"series":"θ = 70°","x":10.97,"y":0.1905},{"series":"θ = 70°","x":11.98,"y":0.1738}
  ],
  "b_err": [
   {"series":"θ = 70°","x":4.99,"lo":0.0058,"hi":0.0095},
   {"series":"θ = 70°","x":5.18,"lo":0.00001,"hi":0.0024},
   {"series":"θ = 70°","x":5.4,"lo":0.0052,"hi":0.0085}
  ]
 },
 "vconcat": [
  {
   "width": 328, "height": 162,
   "encoding": {
    "x": {"field": "x", "type": "quantitative", "scale": {"domain": [-0.35, 19.3], "nice": false, "zero": false}, "axis": {"title": "Incident Energy (MeV)", "values": [0,2,4,6,8,10,12,14,16,18], "titlePadding": 2}}
   },
   "layer": [
    {"mark": {"type": "rule", "strokeDash": [1.5, 2], "color": "#333", "strokeWidth": 1}, "encoding": {"y": {"datum": 0, "type": "quantitative"}, "x": null}},
    {
     "data": {"name": "a_curves"},
     "mark": {"type": "line", "strokeWidth": 1.8, "clip": true},
     "encoding": {
      "y": {"field": "y", "type": "quantitative", "scale": {"domain": [-45, 235], "nice": false}, "axis": {"title": "Phase Shift (degrees)", "values": [0, 100, 200], "titlePadding": 4}},
      "color": {"field": "state", "type": "nominal", "scale": {"domain": ["0+", "2+", "4+"], "range": ["#111111", "#ff1a1a", "#1a1aff"]}, "legend": null},
      "strokeDash": {"field": "model", "type": "nominal", "scale": {"domain": ["NN", "NN+3Nloc", "NN+3Nlnl"], "range": [[7, 2.5, 1.5, 2.5], [5, 3], [1, 0]]}, "legend": {"title": null, "orient": "none", "legendX": 220, "legendY": 9, "symbolStrokeColor": "#111", "symbolStrokeWidth": 1.8, "symbolSize": 800, "labelOffset": 10, "labelFontSize": 13, "rowPadding": -3}},
      "detail": {"field": "state"}
     }
    },
    {
     "data": {"name": "a_points"},
     "mark": {"type": "errorbar", "ticks": {"size": 5}, "thickness": 1.3, "clip": true},
     "encoding": {
      "y": {"field": "lo", "type": "quantitative", "title": "Phase Shift (degrees)"},
      "y2": {"field": "hi"},
      "color": {"field": "state", "type": "nominal", "legend": null}
     }
    },
    {
     "data": {"name": "a_points"},
     "mark": {"type": "point", "shape": "square", "filled": false, "size": 20, "strokeWidth": 1.4},
     "encoding": {
      "y": {"field": "y", "type": "quantitative"},
      "color": {"field": "state", "type": "nominal", "legend": null}
     }
    },
    {
     "data": {"name": "a_labels"},
     "mark": {"type": "text", "fontSize": 15, "font": "Liberation Serif"},
     "encoding": {
      "y": {"field": "y", "type": "quantitative"},
      "text": {"field": "text"},
      "color": {"field": "state", "type": "nominal", "legend": null}
     }
    },
    {
     "mark": {"type": "text", "fontSize": 14, "font": "Liberation Serif", "color": "#222", "text": "(a)"},
     "encoding": {"x": {"datum": 0.78, "type": "quantitative"}, "y": {"datum": -20, "type": "quantitative"}}
    }
   ]
  },
  {
   "width": 328, "height": 195,
   "encoding": {
    "x": {"field": "x", "type": "quantitative", "scale": {"domain": [2.35, 12.65], "nice": false, "zero": false}, "axis": {"title": "Incident Energy (MeV)", "values": [3,4,5,6,7,8,9,10,11,12], "titlePadding": 2}}
   },
   "layer": [
    {
     "data": {"name": "b_curves"},
     "mark": {"type": "line", "strokeWidth": 1.6, "clip": true},
     "encoding": {
      "y": {"field": "y", "type": "quantitative", "scale": {"type": "log", "domain": [0.0001, 620], "nice": false}, "axis": {"title": "(dσ/dΩ)c.m. (b/sr)", "values": [0.0001, 0.001, 0.01, 0.1, 1, 10, 100], "labelExpr": "datum.value >= 99 ? '10²' : datum.value >= 9.9 ? '10¹' : datum.value >= 0.99 ? '10⁰' : datum.value >= 0.099 ? '10⁻¹' : datum.value >= 0.0099 ? '10⁻²' : datum.value >= 0.00099 ? '10⁻³' : '10⁻⁴'", "titlePadding": 2}},
      "color": {"field": "series", "type": "nominal", "scale": {"domain": ["θ = 40°×300", "θ = 90°×40", "θ = 70°"], "range": ["#ff1a1a", "#1f961f", "#1a1aff"]}, "legend": null},
      "strokeDash": {"field": "model", "type": "nominal", "legend": null},
      "detail": {"field": "series"}
     }
    },
    {
     "data": {"name": "b_err"},
     "mark": {"type": "rule", "strokeWidth": 1.3, "clip": true, "color": "#1a1aff"},
     "encoding": {"y": {"field": "lo", "type": "quantitative"}, "y2": {"field": "hi"}}
    },
    {
     "data": {"name": "b_points"},
     "mark": {"type": "point", "filled": true, "size": 45, "strokeWidth": 1.4, "opacity": 1},
     "encoding": {
      "y": {"field": "y", "type": "quantitative"},
      "shape": {"field": "series", "type": "nominal", "scale": {"domain": ["θ = 40°×300", "θ = 90°×40", "θ = 70°"], "range": ["square", "diamond", "triangle-up"]}, "legend": {"title": null, "orient": "none", "legendX": 228, "legendY": 335, "labelOffset": 14, "labelFontSize": 13, "rowPadding": 2, "symbolSize": 80, "symbolStrokeWidth": 1.4}},
      "fill": {"field": "series", "type": "nominal", "scale": {"domain": ["θ = 40°×300", "θ = 90°×40", "θ = 70°"], "range": ["#ffa31a", "#2aa82a", "#1ac6ff"]}, "legend": {"title": null, "orient": "none", "legendX": 228, "legendY": 335, "labelOffset": 14, "labelFontSize": 13, "rowPadding": 2, "symbolSize": 80, "symbolStrokeWidth": 1.4}},
      "stroke": {"field": "series", "type": "nominal", "scale": {"domain": ["θ = 40°×300", "θ = 90°×40", "θ = 70°"], "range": ["#ff1a1a", "#0d6e0d", "#1a1aff"]}, "legend": {"title": null, "orient": "none", "legendX": 228, "legendY": 335, "labelOffset": 14, "labelFontSize": 13, "rowPadding": 2, "symbolSize": 80, "symbolStrokeWidth": 1.4}}
     }
    },
    {
     "mark": {"type": "text", "fontSize": 14, "font": "Liberation Serif", "color": "#222", "text": "(b)"},
     "encoding": {"x": {"datum": 3.18, "type": "quantitative"}, "y": {"datum": 0.000525, "type": "quantitative"}}
    }
   ]
  }
 ]
}
